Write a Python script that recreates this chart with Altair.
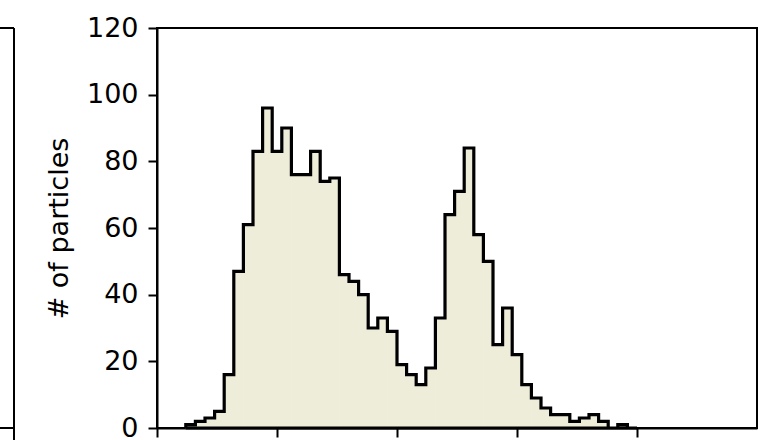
import altair as alt
import pandas as pd

# Histogram counts per bin
counts = [1, 2, 3, 5, 16, 47, 61, 83, 96, 83, 90, 76, 76, 83, 74, 75,
          46, 44, 40, 30, 33, 29, 19, 16, 13, 18, 33, 64, 71, 84, 58, 50,
          25, 36, 22, 13, 9, 6, 4, 4, 2, 3, 4, 2, 0, 1, 0]
bin_start = 0.24
bin_width = 0.08
y_ticks = [0, 20, 40, 60, 80, 100, 120]
x_ticks = [0, 1, 2, 3, 4]
y_title = "# of particles"

edges = [bin_start + bin_width * i for i in range(len(counts) + 1)]
bars = pd.DataFrame({"x0": edges[:-1], "x1": edges[1:], "count": counts})

# closed step outline
pts = [(edges[0], 0)]
for i, c in enumerate(counts):
    pts.append((edges[i], c))
    pts.append((edges[i + 1], c))
pts.append((edges[-1], 0))
pts.append((edges[0], 0))
outline = pd.DataFrame({"x": [p[0] for p in pts], "y": [p[1] for p in pts],
                        "o": list(range(len(pts)))})

xscale = alt.Scale(domain=[0, 5], nice=False, zero=False)
yscale = alt.Scale(domain=[0, 120], nice=False)

FILL = "#EEEDDA"

fill = alt.Chart(bars).mark_rect(color=FILL, stroke=FILL, strokeWidth=1).encode(
    x=alt.X("x0:Q", scale=xscale,
            axis=alt.Axis(values=x_ticks, labels=False, title=None, grid=False)),
    x2="x1:Q",
    y=alt.Y("count:Q", scale=yscale,
            axis=alt.Axis(values=y_ticks, title=y_title, grid=False)),
    y2=alt.datum(0),
)

line = alt.Chart(outline).mark_line(color="black", strokeWidth=3.2,
                                    strokeJoin="miter").encode(
    x=alt.X("x:Q", scale=xscale),
    y=alt.Y("y:Q", scale=yscale),
    order="o:Q",
)

# fragment of the neighbouring panel on the left (decoration)
side_v = alt.Chart(pd.DataFrame({"a": [0]})).mark_rule(color="black", strokeWidth=2).encode(
    x=alt.value(-143), y=alt.value(0), y2=alt.value(412))
side_top = alt.Chart(pd.DataFrame({"a": [0]})).mark_rule(color="black", strokeWidth=2).encode(
    x=alt.value(-160), x2=alt.value(-143), y=alt.value(0))
side_bot = alt.Chart(pd.DataFrame({"a": [0]})).mark_rule(color="black", strokeWidth=2).encode(
    x=alt.value(-160), x2=alt.value(-143), y=alt.value(400))

chart = alt.layer(fill, line, side_v, side_top, side_bot).properties(
    width=600, height=400,
    background="white",
    autosize=alt.AutoSizeParams(type="none"),
    padding={"left": 157, "top": 28, "right": 1, "bottom": 12},
).configure_view(
    stroke="black", strokeWidth=2
).configure_axis(
    domainColor="black", domainWidth=2, tickColor="black", tickWidth=2,
    tickSize=9, labelFont="DejaVu Sans", labelFontSize=27, labelColor="black",
    labelPadding=10, titleFont="DejaVu Sans", titleFontSize=27,
    titleFontWeight="normal", titleColor="black", titlePadding=13,
)

chart.save("out.html", embed_options={"renderer": "svg", "actions": False})
